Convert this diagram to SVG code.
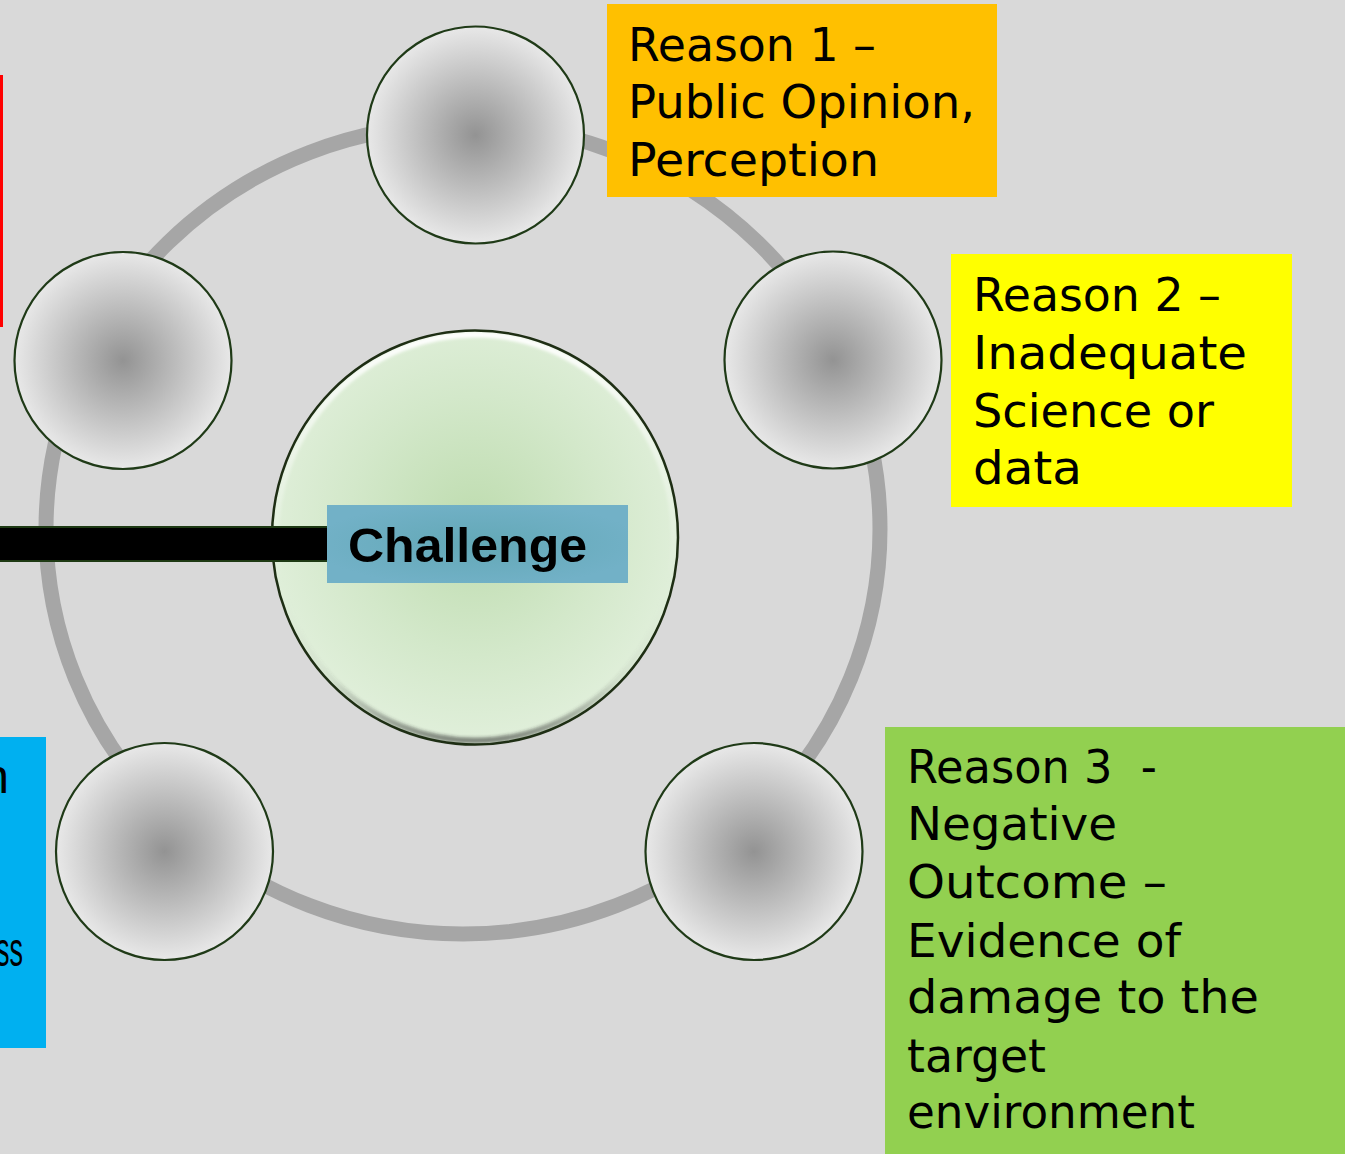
<svg xmlns="http://www.w3.org/2000/svg" width="1345" height="1154" viewBox="0 0 1345 1154">
  <defs>
    <radialGradient id="orbFill" cx="50%" cy="50%" r="50%">
      <stop offset="0" stop-color="#939393"/>
      <stop offset="0.45" stop-color="#b9b9b9"/>
      <stop offset="1" stop-color="#e8e8e8"/>
    </radialGradient>
    <radialGradient id="hubFill" cx="50%" cy="47%" r="52%">
      <stop offset="0" stop-color="#bedcaf"/>
      <stop offset="0.6" stop-color="#d3e8ca"/>
      <stop offset="1" stop-color="#e0efda"/>
    </radialGradient>
    <linearGradient id="hubBevel" x1="0" y1="0" x2="0" y2="1">
      <stop offset="0" stop-color="#ffffff" stop-opacity="0.95"/>
      <stop offset="0.35" stop-color="#ffffff" stop-opacity="0.35"/>
      <stop offset="0.6" stop-color="#ffffff" stop-opacity="0"/>
      <stop offset="0.85" stop-color="#3a3a3a" stop-opacity="0.08"/>
      <stop offset="1" stop-color="#222222" stop-opacity="0.5"/>
    </linearGradient>
    <radialGradient id="tagFill" cx="50%" cy="50%" r="55%">
      <stop offset="0" stop-color="#63a8b6"/>
      <stop offset="1" stop-color="#72b1c7"/>
    </radialGradient>
    <filter id="soft" x="-5%" y="-5%" width="110%" height="110%">
      <feGaussianBlur stdDeviation="1.5"/>
    </filter>
    <style>
      .orb { fill: url(#orbFill); stroke: #1f3a17; stroke-width: 2.2; }
      .reason { font-family: "DejaVu Sans", "Liberation Sans", sans-serif; font-size: 46px; fill: #000; }
      .side { font-family: "Liberation Sans", "DejaVu Sans", sans-serif; font-size: 48px; fill: #000; }
      .hubtext { font-family: "Liberation Sans", Arial, sans-serif; font-size: 48px; font-weight: bold; fill: #000; }
    </style>
  </defs>

  <!-- page background -->
  <rect x="0" y="0" width="1345" height="1154" fill="#d9d9d9"/>

  <!-- central hub -->
  <g id="hub">
    <ellipse cx="475" cy="537.5" rx="203" ry="207" fill="url(#hubFill)"/>
    <ellipse cx="475" cy="537.5" rx="199" ry="203" fill="none" stroke="url(#hubBevel)" stroke-width="6" filter="url(#soft)"/>
    <ellipse cx="475" cy="537.5" rx="203" ry="207" fill="none" stroke="#1e2e14" stroke-width="2.5"/>
  </g>

  <!-- connectors: cycle ring and the bar into the hub -->
  <g id="connectors">
    <ellipse cx="463" cy="529" rx="417" ry="405" fill="none" stroke="#a6a6a6" stroke-width="15"/>
    <rect x="-5" y="527" width="333" height="34" fill="#000" stroke="#1e3a14" stroke-width="2"/>
  </g>

  <g id="challenge">
    <rect x="327" y="505" width="301" height="78" fill="url(#tagFill)"/>
    <text class="hubtext" x="348" y="562" textLength="239" lengthAdjust="spacingAndGlyphs">Challenge</text>
  </g>

  <!-- satellite circles -->
  <g id="orb-top"><circle class="orb" cx="475.5" cy="135" r="108.5"/></g>
  <g id="orb-right"><circle class="orb" cx="833" cy="360" r="108.5"/></g>
  <g id="orb-bottom-right"><circle class="orb" cx="754" cy="851.5" r="108.5"/></g>
  <g id="orb-bottom-left"><circle class="orb" cx="164.5" cy="851.5" r="108.5"/></g>
  <g id="orb-left"><circle class="orb" cx="123" cy="360.5" r="108.5"/></g>

  <!-- reason 1 -->
  <g id="reason-1">
    <rect x="607" y="4" width="390" height="193" fill="#ffc000"/>
    <text class="reason" x="628" y="61" textLength="248" lengthAdjust="spacingAndGlyphs">Reason 1 –</text>
    <text class="reason" x="628" y="118" textLength="347" lengthAdjust="spacingAndGlyphs">Public Opinion,</text>
    <text class="reason" x="628" y="176" textLength="251" lengthAdjust="spacingAndGlyphs">Perception</text>
  </g>

  <!-- reason 2 -->
  <g id="reason-2">
    <rect x="951" y="254" width="341" height="253" fill="#ffff00"/>
    <text class="reason" x="973" y="311" textLength="248" lengthAdjust="spacingAndGlyphs">Reason 2 –</text>
    <text class="reason" x="973" y="369" textLength="274" lengthAdjust="spacingAndGlyphs">Inadequate</text>
    <text class="reason" x="973" y="427" textLength="241" lengthAdjust="spacingAndGlyphs">Science or</text>
    <text class="reason" x="973" y="484" textLength="109" lengthAdjust="spacingAndGlyphs">data</text>
  </g>

  <!-- reason 3 -->
  <g id="reason-3">
    <rect x="885" y="727" width="460" height="427" fill="#92d050"/>
    <text class="reason" x="907" y="783" xml:space="preserve" textLength="250" lengthAdjust="spacingAndGlyphs">Reason 3  -</text>
    <text class="reason" x="907" y="840" textLength="210" lengthAdjust="spacingAndGlyphs">Negative</text>
    <text class="reason" x="907" y="898" textLength="260" lengthAdjust="spacingAndGlyphs">Outcome –</text>
    <text class="reason" x="907" y="957" textLength="274" lengthAdjust="spacingAndGlyphs">Evidence of</text>
    <text class="reason" x="907" y="1013" textLength="352" lengthAdjust="spacingAndGlyphs">damage to the</text>
    <text class="reason" x="907" y="1072" textLength="139" lengthAdjust="spacingAndGlyphs">target</text>
    <text class="reason" x="907" y="1128" textLength="288" lengthAdjust="spacingAndGlyphs">environment</text>
  </g>

  <!-- boxes running off the left edge -->
  <g id="left-red">
    <rect x="0" y="75" width="3" height="252" fill="#ff0000"/>
  </g>
  <g id="left-blue">
    <rect x="0" y="737" width="46" height="311" fill="#00b0f0"/>
    <text class="side" x="9" y="793" text-anchor="end">n</text>
    <text class="side" x="-4" y="966" textLength="27" lengthAdjust="spacingAndGlyphs">ss</text>
  </g>
</svg>
